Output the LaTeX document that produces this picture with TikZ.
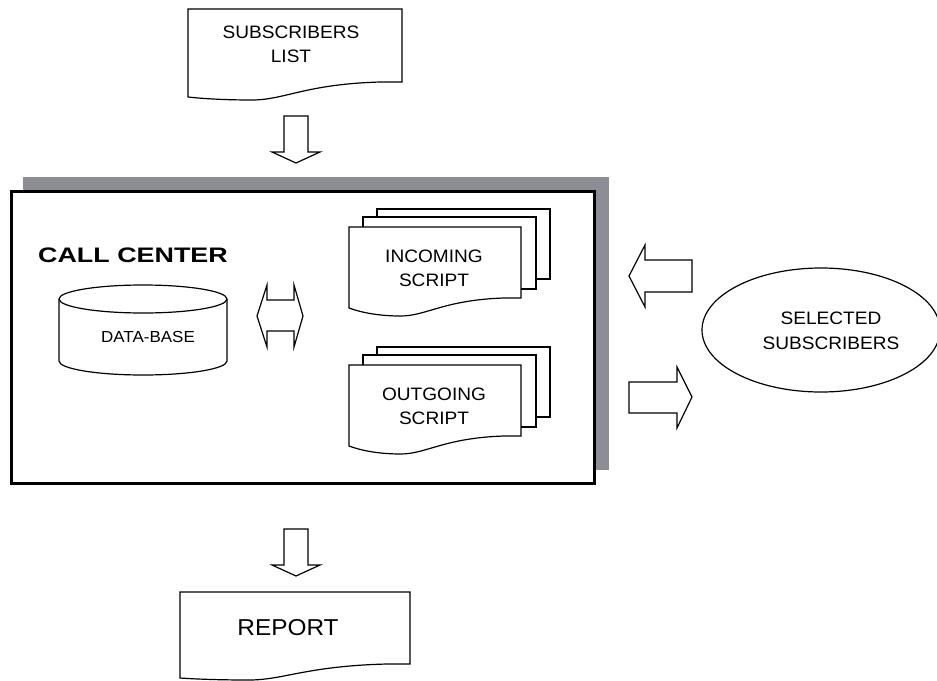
\documentclass[tikz,border=0pt]{standalone}
\usepackage{fontspec}
\setmainfont{Liberation Sans}[FakeStretch=1.06]
\newfontfamily\titlefont{Liberation Sans}[FakeStretch=1.28]
\definecolor{shadowgray}{RGB}{141,141,150}

% document sheet: left, top, right, bottom left, bottom right, dip
\newcommand\docsheet[6]{%
  \draw[sheet] (#1,#2) -- (#3,#2) -- (#3,#5) -- ({#3-0.1*(#3-#1)},#5)
    .. controls ({#1+0.55*(#3-#1)},{#5+2}) and ({#1+0.45*(#3-#1)},{#4+#6}) .. ({#1+0.3*(#3-#1)},{#4+#6})
    .. controls ({#1+0.15*(#3-#1)},{#4+#6}) and ({#1+0.05*(#3-#1)},{#4+0.4*#6}) .. (#1,#4) -- cycle;}

\begin{document}
\begin{tikzpicture}[x=1pt, y=-1pt, line width=1.2pt, line join=miter,
  lbl/.style={font=\fontsize{18}{24}\selectfont, align=center, inner sep=0pt},
  sheet/.style={draw, fill=white},
  blockarrow/.style={draw, fill=white}]
  \useasboundingbox (0,0) rectangle (937,680);

  % input list
  \docsheet{188}{9}{402}{97}{82}{3}
  \node[lbl] (list) at (291,44) {SUBSCRIBERS\\LIST};
  \draw[blockarrow] (284,116) -- (308,116) -- (308,152) -- (320,152) -- (296,163)
    -- (272,152) -- (284,152) -- cycle;

  % call center frame
  \fill[shadowgray] (23,177) rectangle (609,470);
  \draw[line width=3pt, fill=white] (11,191) rectangle (594,483);
  \node[font=\titlefont\bfseries\fontsize{21}{24}\selectfont, inner sep=0pt] (cc) at (133,255) {CALL CENTER};

  % data base
  \draw[sheet] (59,299) -- (59,361) arc[start angle=180, end angle=0, x radius=84, y radius=14] -- (227,299);
  \draw (143,299) ellipse[x radius=84, y radius=14];
  \node[lbl, font=\fontsize{16}{20}\selectfont] (db) at (148,337) {DATA-BASE};

  \draw[blockarrow] (257,316) -- (267,285) -- (267,300) -- (294,300) -- (294,285) -- (303,316)
    -- (294,347) -- (294,331) -- (267,331) -- (267,347) -- cycle;

  % scripts
  \foreach \dy/\word/\tag in {0/INCOMING/in, 138/OUTGOING/out}{
    \begin{scope}[yshift=-\dy pt]
      \draw[sheet] (377,209) rectangle (550,279);
      \draw[sheet] (363,217) rectangle (536,289);
      \docsheet{349}{227}{521}{308}{298}{8}
      \node[lbl] (\tag) at (434,268) {\word\\SCRIPT};
    \end{scope}
  }

  % selected subscribers
  \draw[blockarrow] (692,260) -- (645,260) -- (645,245) -- (629,276) -- (645,307)
    -- (645,292) -- (692,292) -- cycle;
  \draw[blockarrow] (629,382) -- (677,382) -- (677,367) -- (692,397) -- (677,428)
    -- (677,413) -- (629,413) -- cycle;
  \draw (821,330) ellipse[x radius=119, y radius=62];
  \node[lbl, font=\fontsize{18}{25}\selectfont] (sel) at (831,331) {SELECTED\\SUBSCRIBERS};

  % output
  \draw[blockarrow] (284,529) -- (308,529) -- (308,565) -- (320,565) -- (296,576)
    -- (272,565) -- (284,565) -- cycle;
  \docsheet{180}{592}{410}{678}{664}{2}
  \node[lbl, font=\fontsize{23}{26}\selectfont] (report) at (288,628) {REPORT};
\end{tikzpicture}
\end{document}
